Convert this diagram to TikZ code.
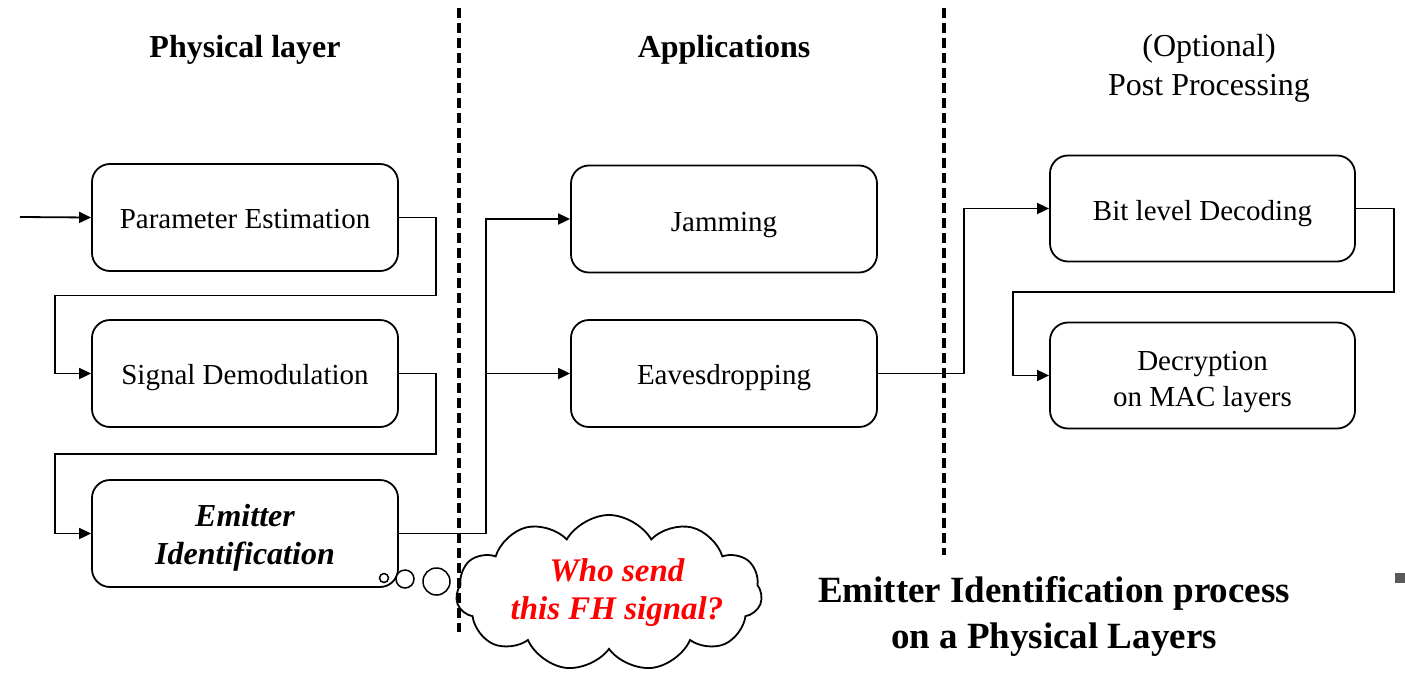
\documentclass[tikz,border=0pt]{standalone}
\usepackage{fontspec}
\setmainfont{Liberation Serif}
\usetikzlibrary{arrows.meta,shapes.symbols}

% set box text a little lower than its geometric centre, keeping its size
\newcommand\lowertext[2]{\raisebox{-#1}[\height][\depth]{\begin{tabular}{@{}c@{}}#2\end{tabular}}}

\tikzset{
  box/.style={draw, line width=1.8pt, rounded corners=18pt, minimum width=306pt,
    minimum height=107pt, align=center, inner sep=0pt,
    font=\fontsize{29}{36}\selectfont},
  conn/.style={line width=1.8pt},
  arr/.style={conn, -{Triangle[length=12pt,width=11pt]}},
  divider/.style={line width=3.5pt, dash pattern=on 10pt off 5pt},
  heading/.style={align=center, font=\bfseries\fontsize{32}{40}\selectfont},
  subheading/.style={align=center, font=\fontsize{32}{39}\selectfont},
  caption/.style={align=center, font=\bfseries\fontsize{37}{46}\selectfont},
  bubble/.style={circle, draw, fill=white, line width=1.5pt, inner sep=0pt},
  thought/.style={cloud, cloud puffs=11, cloud puff arc=120, aspect=1.9, draw,
    fill=white, line width=1.8pt, minimum width=306pt, minimum height=156pt, inner sep=0pt},
  asktext/.style={align=center, text=red,
    font=\bfseries\itshape\fontsize{33}{38}\selectfont},
}

\begin{document}
\begin{tikzpicture}[x=1pt, y=-1pt]
  \useasboundingbox (0,0) rectangle (1405,673);
  \fill[white] (0,0) rectangle (1405,673);

  % column headings
  \node[heading] (h1) at (245,50) {Physical layer};
  \node[heading] (h2) at (724,50) {Applications};
  \node[subheading] (h3) at (1209,68) {(Optional)\\Post Processing};

  % physical layer chain
  \node[box] (pe) at (245,217.5) {\lowertext{3.5pt}{Parameter Estimation}};
  \node[box] (sd) at (245,373.5) {\lowertext{4pt}{Signal Demodulation}};
  \node[box, font=\bfseries\itshape\fontsize{32}{38}\selectfont] (ei) at (245,533.5)
    {\lowertext{4.5pt}{Emitter\\Identification}};

  % applications
  \node[box] (jam) at (724,219) {\lowertext{5pt}{Jamming}};
  \node[box] (eav) at (724,373.5) {\lowertext{4pt}{Eavesdropping}};

  % post processing
  \node[box, minimum width=305pt, minimum height=106pt] (bld) at (1202.5,208.5)
    {\lowertext{5pt}{Bit level Decoding}};
  \node[box, minimum width=305pt, minimum height=106pt] (dec) at (1202.5,375.5)
    {\lowertext{6pt}{Decryption\\on MAC layers}};

  % thought cloud
  \node[thought] (cl) at (609,593) {};
  \node[asktext] (ask) at (617,593) {Who send\\this FH signal?};
  \node[bubble, minimum size=9pt] (b1) at (384,578) {};
  \node[bubble, minimum size=18pt] (b2) at (405,579) {};
  \node[bubble, minimum size=27pt] (b3) at (436.5,581.5) {};

  % section dividers
  \draw[divider] (459,8) -- (459,632);
  \draw[divider] (944,8) -- (944,555);

  % connectors
  \coordinate (src) at (20,217);
  \draw[arr] (src) -- (pe.west);
  \draw[arr] (pe.east) -- ++(37,0) |- (55,295.5) |- (sd.west);
  \draw[arr] (sd.east) -- ++(37,0) |- (55,454) |- (ei.west);
  \draw[arr] (ei.east) -- ++(87,0) |- (jam.west);
  \coordinate (tap) at (485,373.5);
  \draw[arr] (tap) -- (eav.west);
  \draw[arr] (eav.east) -- ++(86,0) |- (bld.west);
  \draw[arr] (bld.east) -- ++(38,0) |- (1013,292) |- (dec.west);

  % caption
  \node[caption] (cap) at (1054,616) {Emitter Identification process\\on a Physical Layers};

  % small marker at the right edge
  \fill[black!65] (1395,573) rectangle (1405,583);
\end{tikzpicture}
\end{document}
